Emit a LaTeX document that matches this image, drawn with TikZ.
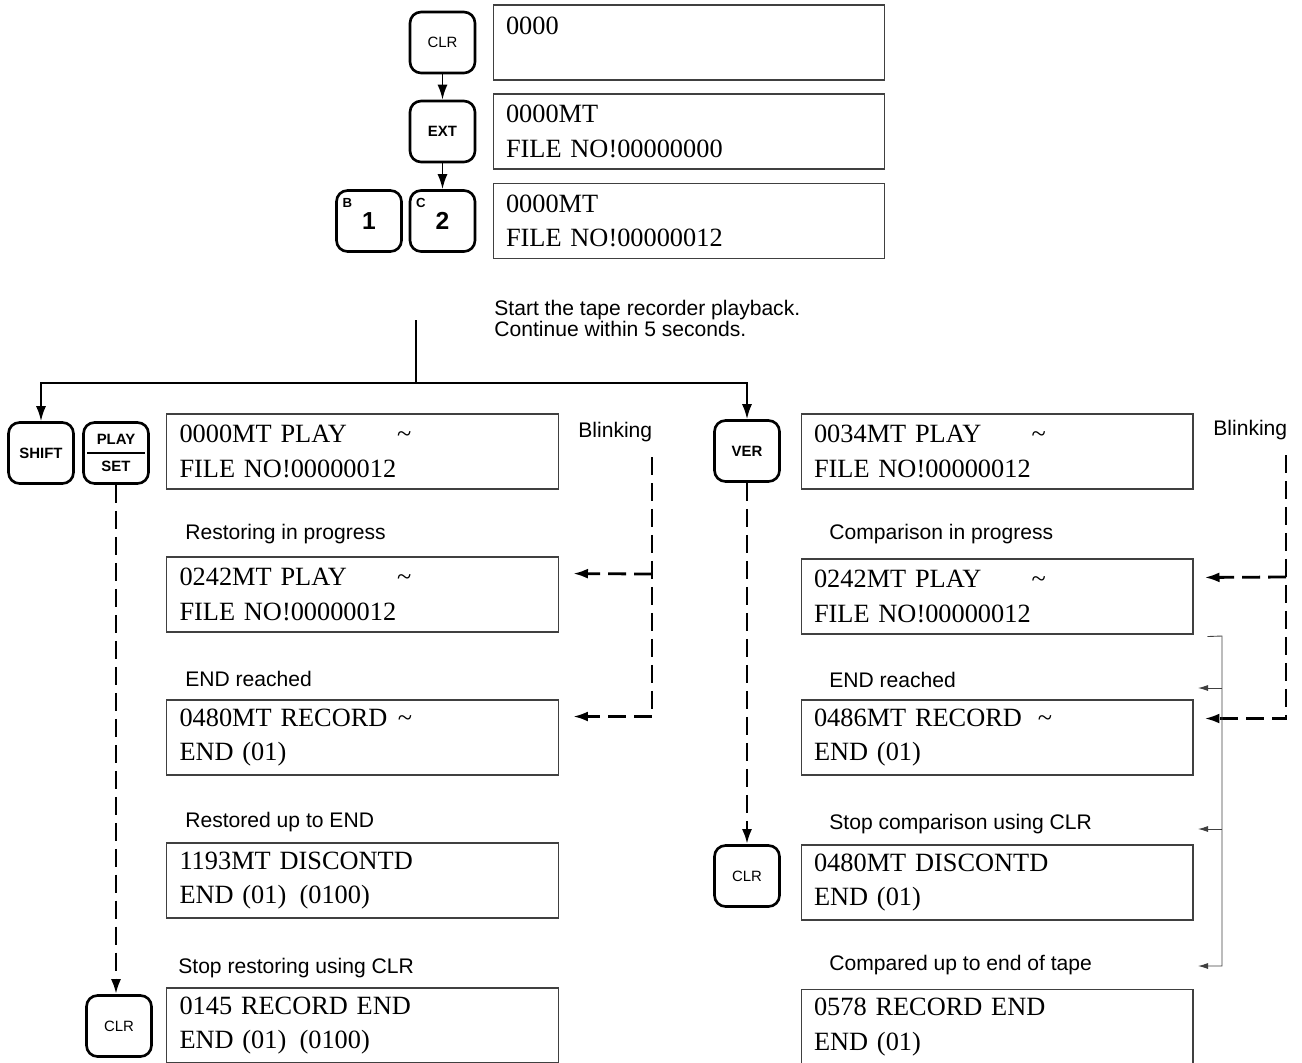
\documentclass[tikz,border=0pt]{standalone}
\usepackage{fontspec}
\setmainfont{Liberation Serif}
\setsansfont{Liberation Sans}
\usetikzlibrary{arrows.meta,calc}

\tikzset{
  lcd/.style={draw=black!75,line width=0.6pt,minimum width=7.84cm,minimum height=1.5cm,
    inner xsep=0.26cm,text width=7.32cm,align=left,font=\rmfamily\fontsize{15}{19.5}\selectfont},
  key/.style={draw,line width=1.5pt,rounded corners=0.22cm,minimum width=1.3cm,minimum height=1.22cm,
    inner sep=0pt,font=\sffamily\bfseries\fontsize{8.5}{10}\selectfont},
  keyplain/.style={key,font=\sffamily\fontsize{8.5}{10}\selectfont},
  digit/.style={key,font=\sffamily\bfseries\fontsize{14}{14}\selectfont},
  sup/.style={anchor=north west,inner xsep=4pt,inner ysep=5pt,font=\sffamily\bfseries\fontsize{7.5}{8}\selectfont},
  lbl/.style={anchor=west,inner sep=0pt,font=\sffamily\fontsize{12}{14}\selectfont},
  flow/.style={line width=1.1pt,-{Latex[length=0.3cm,width=0.2cm]}},
  blink/.style={line width=1.6pt,dash pattern=on 0.36cm off 0.16cm,-{Latex[length=0.3cm,width=0.2cm]}},
  back/.style={draw=black!75,line width=0.5pt,-{Latex[length=0.2cm,width=0.12cm]}},
}

\begin{document}
\begin{tikzpicture}[x=0.02cm,y=-0.02cm]
  \useasboundingbox (0,0) rectangle (1302,1062);
  % top: file number entry
  \node[keyplain] (clrtop) at (442.5,42.5) {CLR};
  \node[key] (ext) at (442.5,131.5) {EXT};
  \node[digit,label={[sup]north west:B}] (kb) at (369,221) {\raisebox{-3pt}{1}};
  \node[digit,label={[sup]north west:C}] (kc) at (442.5,221) {\raisebox{-3pt}{2}};
  \node[lcd] (t1) at (689,42.5) {0000\\\mbox{}};
  \node[lcd] (t2) at (689,131.5) {0000MT\\FILE NO!00000000};
  \node[lcd] (t3) at (689,221) {0000MT\\FILE NO!00000012};
  \draw[flow] (clrtop) -- (ext);
  \draw[flow] (ext) -- (kc);

  \node[lbl,anchor=north west,align=left] (start) at (494,300)
    {Start the tape recorder playback.\\[-1.9pt]Continue within 5 seconds.};
  \coordinate (play) at (416,320);
  \coordinate (split) at (416,383);

  % left: restore
  \node[key] (shift) at (41,453) {SHIFT};
  \node[key,align=center] (ps) at (116,453) {PLAY\\[0.2cm]SET};
  \draw[line width=1.2pt] ($(ps.west)+(5,0)$) -- ($(ps.east)+(-5,0)$);
  \node[keyplain] (clrl) at (119,1026) {CLR};
  \node[lcd] (l1) at (362.5,451.5) {0000MT PLAY\hspace{1.9em}\textasciitilde\\FILE NO!00000012};
  \node[lbl] (l2t) at (185,534) {Restoring in progress};
  \node[lcd] (l2) at (362.5,594.5) {0242MT PLAY\hspace{1.9em}\textasciitilde\\FILE NO!00000012};
  \node[lbl] (l3t) at (185,679) {END reached};
  \node[lcd] (l3) at (362.5,737.5) {0480MT RECORD\hspace{0.4em}\textasciitilde\\END (01)};
  \node[lbl] (l4t) at (185,822) {Restored up to END};
  \node[lcd] (l4) at (362.5,880.5) {1193MT DISCONTD\\END (01)\enspace(0100)};
  \node[lbl] (l5t) at (178,968) {Stop restoring using CLR};
  \node[lcd] (l5) at (362.5,1025.5) {0145 RECORD END\\END (01)\enspace(0100)};
  \node[lbl] (blinkl) at (578,432) {Blinking};

  % right: verify
  \node[key] (ver) at (747,451) {VER};
  \node[keyplain] (clrr) at (747,876) {CLR};
  \node[lcd] (r1) at (997,451.5) {0034MT PLAY\hspace{1.9em}\textasciitilde\\FILE NO!00000012};
  \node[lbl] (r2t) at (829,534) {Comparison in progress};
  \node[lcd] (r2) at (997,596.5) {0242MT PLAY\hspace{1.9em}\textasciitilde\\FILE NO!00000012};
  \node[lbl] (r3t) at (829,680) {END reached};
  \node[lcd] (r3) at (997,737.5) {0486MT RECORD\hspace{0.6em}\textasciitilde\\END (01)};
  \node[lbl] (r4t) at (829,824) {Stop comparison using CLR};
  \node[lcd] (r4) at (997,882.5) {0480MT DISCONTD\\END (01)};
  \node[lbl] (r5t) at (829,965) {Compared up to end of tape};
  \node[lcd] (r5) at (997,1027) {0578 RECORD END\\END (01)};
  \node[lbl] (blinkr) at (1213,430) {Blinking};

  % branching after playback
  \draw[line width=1pt] (play) -- (split);
  \draw[flow] (split) -| (shift);
  \draw[flow] (split) -| (ver);
  \draw[blink] (ps) -- (ps.south |- clrl.north);
  \draw[blink] (ver) -- (clrr);

  % blinking markers
  \coordinate (bl) at (652,457);
  \draw[blink,shorten >=0.28cm] (bl) |- ($(l3.east)+(0,-21)$);
  \draw[blink,shorten >=0.28cm] (bl |- 0,574) -- ($(l2.east)+(0,-21)$);
  \coordinate (br) at (1286,455);
  \draw[blink,shorten >=0.22cm] (br) |- ($(r3.east)+(0,-19)$);
  \draw[blink,shorten >=0.22cm] (br |- 0,577) -- ($(r2.east)+(0,-19)$);

  % stop points during comparison
  \coordinate (bt) at ($(r2.south east)+(14,2)$);
  \coordinate (bx) at (1222,636);
  \draw[back] (bt) -- (bx) |- (1198,966);
  \draw[back] (bx |- 0,688) -- (1198,688);
  \draw[back] (bx |- 0,829) -- (1198,829);
\end{tikzpicture}
\end{document}
